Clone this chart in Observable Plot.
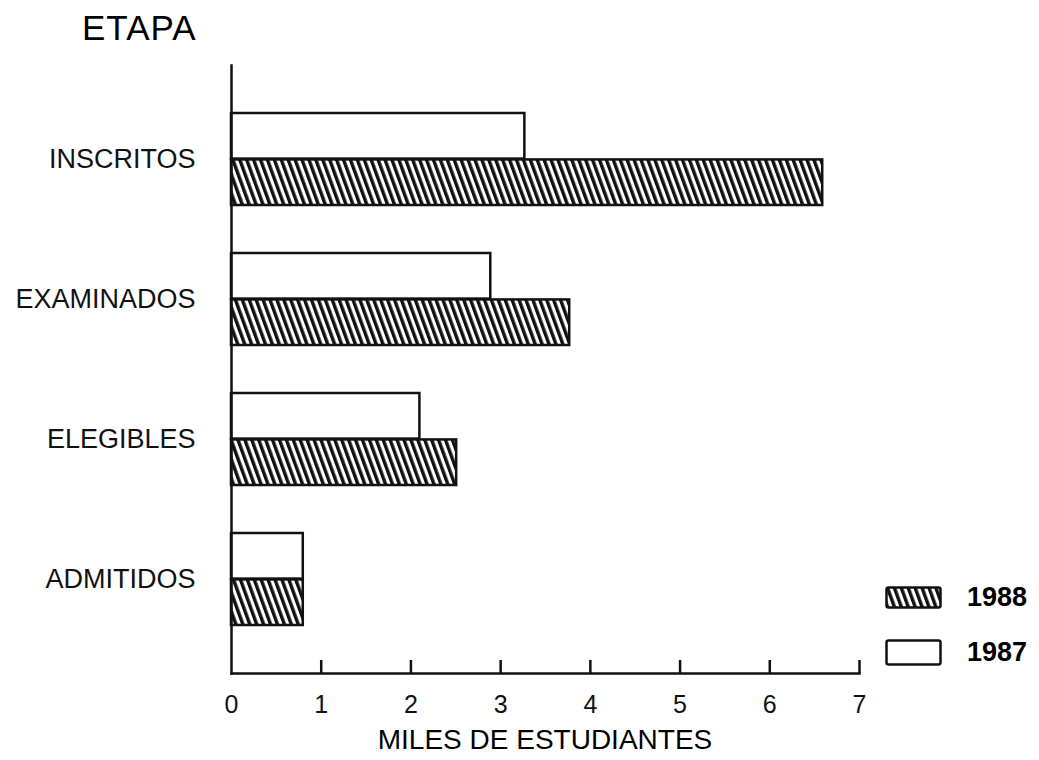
<!DOCTYPE html>
<html>
<head>
<meta charset="utf-8">
<script src="https://cdn.jsdelivr.net/npm/d3@7"></script>
<script src="https://cdn.jsdelivr.net/npm/@observablehq/plot@0.6"></script>
<style>
  html, body { margin: 0; padding: 0; background: #fff; }
  #wrap { position: relative; width: 1039px; height: 760px; font-family: "Liberation Sans", Arial, sans-serif; color: #000; }
  .abs { position: absolute; white-space: nowrap; line-height: 1; }
</style>
</head>
<body>
<div id="wrap"></div>
<script>
// ---- data ----
const etapas = ["INSCRITOS", "EXAMINADOS", "ELEGIBLES", "ADMITIDOS"];
const years = ["1988", "1987"];
const v1987 = [3.27, 2.89, 2.10, 0.80];
const v1988 = [6.59, 3.77, 2.51, 0.80];
const xTicks = [0, 1, 2, 3, 4, 5, 6, 7];
const yTitle = "ETAPA";
const xTitle = "MILES DE ESTUDIANTES";

const d1987 = etapas.map((e, i) => ({etapa: e, value: v1987[i]}));
const d1988 = etapas.map((e, i) => ({etapa: e, value: v1988[i]}));

const W = 1039, H = 760, mT = 65, mB = 87, mL = 231, mR = 180;
const pIn = 0.34, pOut = 0.331;
const step = (H - mT - mB) / (etapas.length - pIn + 2 * pOut);
const half = step * (1 - pIn) / 2;

const ink = "#111";

const plot = Plot.plot({
  width: W,
  height: H,
  marginTop: mT,
  marginBottom: mB,
  marginLeft: mL,
  marginRight: mR,
  style: {fontFamily: "'Liberation Sans', Arial, sans-serif", color: ink, background: "#fff"},
  x: {domain: [0, 7]},
  y: {type: "band", domain: etapas, paddingInner: pIn, paddingOuter: pOut},
  marks: [
    Plot.barX(d1987, {y: "etapa", x1: 0, x2: "value", fill: "#fff", stroke: ink, strokeWidth: 2.5, insetBottom: half}),
    Plot.barX(d1988, {y: "etapa", x1: 0, x2: "value", fill: "url(#hatch)", stroke: ink, strokeWidth: 2.5, insetTop: half}),
    Plot.frame({anchor: "left", stroke: ink, strokeWidth: 2.5}),
    Plot.frame({anchor: "bottom", stroke: ink, strokeWidth: 2.5}),
    Plot.ruleX(xTicks.slice(1), {stroke: ink, strokeWidth: 2.5, insetTop: (H - mT - mB) - 13}),
    Plot.axisX({ticks: xTicks, tickSize: 0, tickPadding: 22, fontSize: 25, label: null, tickFormat: d => String(d)}),
    Plot.axisY({tickSize: 0, tickPadding: 36, fontSize: 27, label: null})
  ]
});

// hatch pattern
const ns = "http://www.w3.org/2000/svg";
function addHatch(svg, id) {
  const defs = document.createElementNS(ns, "defs");
  defs.innerHTML = `<pattern id="${id}" patternUnits="userSpaceOnUse" width="6.5" height="6.5" patternTransform="rotate(-20)">
    <rect x="0" y="0" width="6.5" height="6.5" fill="#fff"/>
    <rect x="0" y="0" width="3.4" height="6.5" fill="${ink}"/>
  </pattern>`;
  svg.insertBefore(defs, svg.firstChild);
}
addHatch(plot, "hatch");

const wrap = document.getElementById("wrap");
plot.style.position = "absolute";
plot.style.left = "0px";
plot.style.top = "0px";
wrap.appendChild(plot);

// titles
const t1 = document.createElement("div");
t1.className = "abs";
t1.textContent = yTitle;
t1.style.cssText += "left:82px; top:10px; font-size:35px; letter-spacing:1px;";
wrap.appendChild(t1);

const t2 = document.createElement("div");
t2.className = "abs";
t2.textContent = xTitle;
t2.style.cssText += "left:545px; top:726px; font-size:28px; transform:translateX(-50%);";
wrap.appendChild(t2);

// legend
const legendPos = {"1988": {top: 587, h: 21}, "1987": {top: 640, h: 25}};
years.forEach((yr) => {
  const p = legendPos[yr];
  const sw = document.createElementNS(ns, "svg");
  sw.setAttribute("width", 58);
  sw.setAttribute("height", p.h + 2);
  sw.style.position = "absolute";
  sw.style.left = "885px";
  sw.style.top = (p.top - 1) + "px";
  if (yr === "1988") addHatch(sw, "hatchLegend");
  const r = document.createElementNS(ns, "rect");
  r.setAttribute("x", 1.5); r.setAttribute("y", 1.5);
  r.setAttribute("width", 54); r.setAttribute("height", p.h - 1);
  r.setAttribute("rx", 2);
  r.setAttribute("fill", yr === "1988" ? "url(#hatchLegend)" : "#fff");
  r.setAttribute("stroke", ink);
  r.setAttribute("stroke-width", 2.5);
  sw.appendChild(r);
  wrap.appendChild(sw);
  const tx = document.createElement("div");
  tx.className = "abs";
  tx.textContent = yr;
  tx.style.cssText += `left:967px; top:${p.top + p.h / 2 - 14}px; font-size:27px; font-weight:bold;`;
  wrap.appendChild(tx);
});
</script>
</body>
</html>
